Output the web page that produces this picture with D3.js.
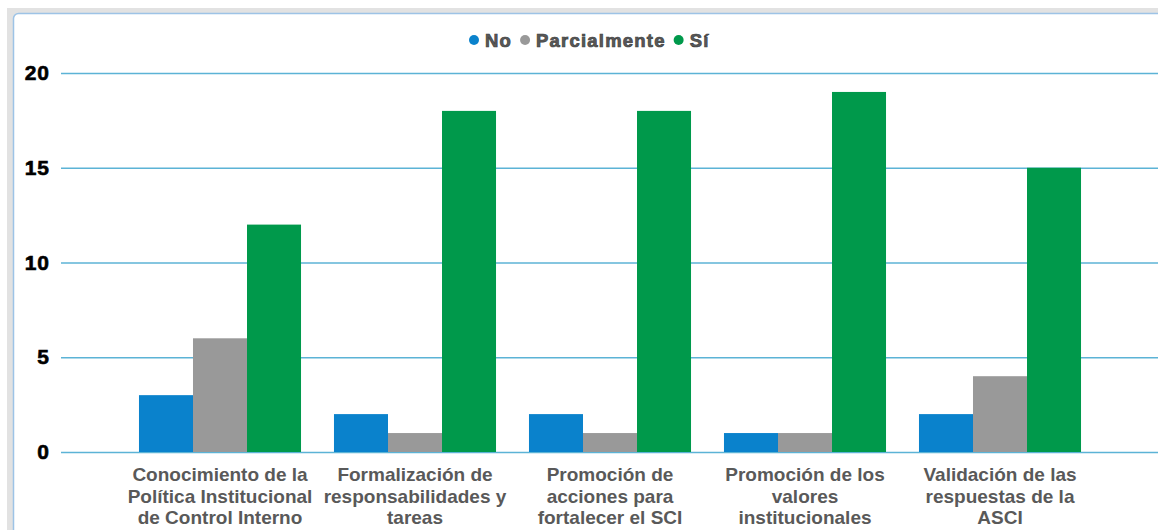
<!DOCTYPE html>
<html>
<head>
<meta charset="utf-8">
<script src="https://cdn.jsdelivr.net/npm/d3@7"></script>
<style>
  body { margin: 0; background: #fff; }
  svg { display: block; font-family: "Liberation Sans", Arial, sans-serif; }
</style>
</head>
<body>
<svg id="chart" width="1158" height="530"></svg>
<script>
var categories = [
    ["Conocimiento de la", "Política Institucional", "de Control Interno"],
    ["Formalización de", "responsabilidades y", "tareas"],
    ["Promoción de", "acciones para", "fortalecer el SCI"],
    ["Promoción de los", "valores", "institucionales"],
    ["Validación de las", "respuestas de la", "ASCI"]
];
var seriesNames = ["No", "Parcialmente", "Sí"];
var seriesColors = ["#0a82cc", "#999999", "#00994b"];
var noValues = [3, 2, 2, 1, 2];
var parcialValues = [6, 1, 1, 1, 4];
var siValues = [12, 18, 18, 19, 15];
var yTicks = [0, 5, 10, 15, 20];

var series = [noValues, parcialValues, siValues];

var svg = d3.select('#chart');

// frame of the card
svg.append("rect").attr("x", 7).attr("y", 8).attr("width", 1160).attr("height", 540)
    .attr("fill", "#e2e2e2");
svg.append("rect").attr("x", 13.5).attr("y", 13.5).attr("width", 1160).attr("height", 540)
    .attr("rx", 5).attr("fill", "#fff").attr("stroke", "#9dc3e6").attr("stroke-width", 1.5);

var keys = categories.map(function(d, i){ return "c" + i; });

var x = d3.scaleBand()
    .domain(keys)
    .range([122.5, 1097.5])
    .paddingInner(0.169)
    .paddingOuter(0.0845);

var xs = d3.scaleBand()
    .domain(seriesNames)
    .range([0, x.bandwidth()]);

var y = d3.scaleLinear()
    .domain([0, 20])
    .range([452, 73]);

// gridlines
var yAxis = d3.axisLeft(y)
    .tickValues(yTicks)
    .tickSize(-1100)
    .tickPadding(11);

var gy = svg.append("g")
    .attr("transform", "translate(61,0)")
    .call(yAxis);
gy.select(".domain").remove();
gy.selectAll(".tick line")
    .attr("stroke", "#5cb3d6")
    .attr("stroke-width", 1.5);
gy.selectAll(".tick text")
    .attr("fill", "#000")
    .attr("stroke", "#000")
    .attr("stroke-width", 0.6)
    .style("font-size", "21px")
    .style("font-weight", "bold")
    .style("letter-spacing", "1px");

// bars
var groups = svg.append("g").selectAll("g")
    .data(keys)
    .enter()
    .append("g")
    .attr("transform", function(d){ return "translate(" + x(d) + ",0)"; });

groups.selectAll("rect")
    .data(function(d, i){
        return seriesNames.map(function(s, j){ return {s: s, j: j, v: series[j][i]}; });
    })
    .enter()
    .append("rect")
    .attr("x", function(d){ return xs(d.s); })
    .attr("width", xs.bandwidth())
    .attr("y", function(d){ return y(d.v); })
    .attr("height", function(d){ return y(0) - y(d.v); })
    .attr("fill", function(d){ return seriesColors[d.j]; });

// category labels
var labels = svg.append("g").selectAll("text")
    .data(categories)
    .enter()
    .append("text")
    .attr("text-anchor", "middle")
    .attr("fill", "#595959")
    .style("font-size", "19px")
    .style("font-weight", "bold")
    .attr("transform", function(d, i){ return "translate(" + (x(keys[i]) + x.bandwidth() / 2) + ",481)"; });

labels.selectAll("tspan")
    .data(function(d){ return d; })
    .enter()
    .append("tspan")
    .attr("x", 0)
    .attr("y", function(d, i){ return i * 21.5; })
    .text(function(d){ return d; });

// legend
var legend = svg.append("g").attr("transform", "translate(469,40)");
var lx = 0;
seriesNames.forEach(function(s, i){
    legend.append("circle")
        .attr("cx", lx + 5).attr("cy", 0).attr("r", 5)
        .attr("fill", seriesColors[i]);
    var t = legend.append("text")
        .attr("x", lx + 16).attr("y", 6.5)
        .attr("fill", "#595959")
        .attr("stroke", "#404040")
        .attr("stroke-width", 0.7)
        .style("font-size", "18.5px")
        .style("font-weight", "bold")
        .style("letter-spacing", "1.2px")
        .text(s);
    lx += 16 + t.node().getComputedTextLength() + 8;
});
</script>
</body>
</html>
